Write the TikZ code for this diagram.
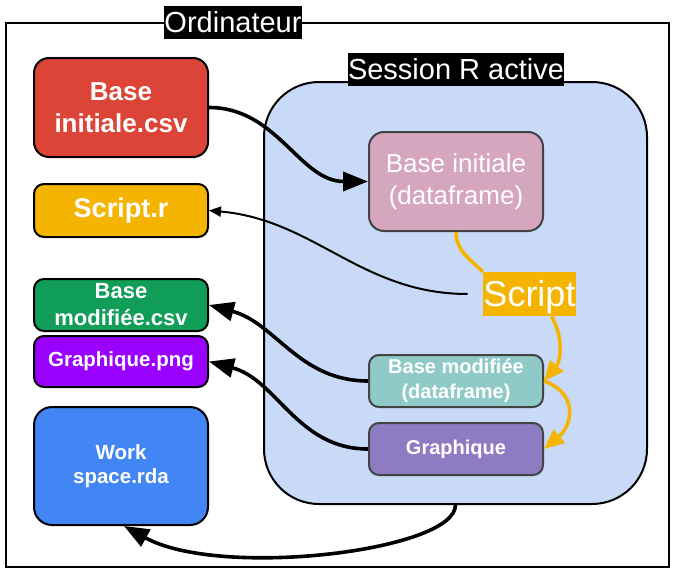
\documentclass[tikz,border=0pt]{standalone}
\usepackage{fontspec}
\setmainfont{Liberation Sans}
\usetikzlibrary{arrows.meta}

\definecolor{csvred}{HTML}{DB4437}
\definecolor{scriptorange}{HTML}{F4B400}
\definecolor{csvgreen}{HTML}{0F9D58}
\definecolor{pngpurple}{HTML}{9900FF}
\definecolor{rdablue}{HTML}{4285F4}
\definecolor{sessionblue}{HTML}{C9DAF8}
\definecolor{dfpink}{HTML}{D5A6BD}
\definecolor{dfteal}{HTML}{8FCAC9}
\definecolor{dfviolet}{HTML}{8E7CC3}
\definecolor{boxgray}{HTML}{434343}

\begin{document}
\begin{tikzpicture}[
            x = 1pt, y = 1pt,
            > = {Triangle[length=25pt, width=19pt]},
            semithick,
            node distance = 100pt
        ]
        \tikzstyle{frame}=[
            draw = black,
            line width = 2pt,
            minimum width = 663pt,
            minimum height = 544pt
        ]
        \tikzstyle{session}=[
            draw = black,
            line width = 2pt,
            fill = sessionblue,
            rounded corners = 55pt,
            minimum width = 383pt,
            minimum height = 422pt
        ]
        \tikzstyle{tag}=[
            fill = black,
            text = white,
            font = \fontsize{29}{35}\selectfont,
            inner sep = 0.5pt,
            text height = 26pt,
            text depth = 6pt
        ]
        \tikzstyle{file}=[
            draw = black,
            line width = 2pt,
            rounded corners = 15pt,
            minimum width = 174pt,
            text = white,
            align = center,
            inner sep = 0pt
        ]
        \tikzstyle{data}=[
            draw = boxgray,
            line width = 2pt,
            rounded corners = 10pt,
            minimum width = 174pt,
            minimum height = 52pt,
            text = white,
            align = center,
            inner sep = 0pt
        ]
        \tikzstyle{flow}=[->, line width = 3.6pt]
        \tikzstyle{code}=[line width = 3.6pt, draw = scriptorange,
            >={Triangle[length=20pt, width=17pt]}]

        \useasboundingbox (0,0) rectangle (675,-573);

        \node[frame] (pc) at (337.5,-295) {};
        \node[tag] (pctag) at (233,-22) {Ordinateur};
        \node[session] (r) at (455.5,-293) {};
        \node[tag] (rtag) at (456,-69) {Session R active};

        % fichiers sur le disque
        \node[file, fill=csvred, minimum height=99pt,
            font=\fontsize{26}{32}\selectfont\bfseries] (csv) at (121,-107.5) {Base\\initiale.csv};
        \node[file, fill=scriptorange, minimum height=53pt, rounded corners=10pt,
            font=\fontsize{27}{32}\selectfont\bfseries] (scriptr) [node distance=103pt, below of=csv] {Script.r};
        \node[file, fill=csvgreen, minimum height=52pt, rounded corners=10pt,
            font=\fontsize{22}{27}\selectfont\bfseries] (modcsv) [node distance=94.5pt, below of=scriptr] {Base\\modifiée.csv};
        \node[file, fill=pngpurple, minimum height=51pt, rounded corners=10pt,
            font=\fontsize{20.5}{25}\selectfont\bfseries] (png) [node distance=56.5pt, below of=modcsv] {Graphique.png};
        \node[file, fill=rdablue, minimum height=118pt, rounded corners=18pt,
            font=\fontsize{20.5}{24}\selectfont\bfseries] (rda) [node distance=104.5pt, below of=png] {Work\\space.rda};

        % objets de la session
        \node[data, fill=dfpink, minimum height=99pt, rounded corners=15pt,
            font=\fontsize{26}{32}\selectfont] (base) at (456,-181.5) {Base initiale\\(dataframe)};
        \node[fill=scriptorange, text=white, font=\fontsize{36}{40}\selectfont,
            inner xsep=0.5pt, inner ysep=2pt, text height=32.5pt, text depth=7.5pt] (script) at (529.5,-294) {Script};
        \node[data, fill=dfteal, font=\fontsize{20}{25}\selectfont\bfseries] (basemod) at (456,-381) {Base modifiée\\(dataframe)};
        \node[data, fill=dfviolet, font=\fontsize{20}{25}\selectfont\bfseries] (graph) [node distance=68pt, below of=basemod] {Graphique};

        \coordinate (scriptout) at ([xshift=-15pt]script.west);
        \coordinate (scriptdown) at ([xshift=22pt]script.south);

        \path[flow] (csv) edge[out=0, in=180] (base.west);
        \path[->, line width=2pt, >={Triangle[length=12pt, width=10pt]}]
            (scriptout) edge[out=180, in=-5] (scriptr.east);
        \path[flow] (basemod.west) edge[out=180, in=-15] (modcsv.east);
        \path[flow] (graph.west) edge[out=180, in=-15] (png.east);
        \draw[flow] (r.south) .. controls +(0,-46) and +(96,-53) .. ([xshift=3pt]rda.south);

        \draw[code] (base.south) to[out=-90, in=135] (script.north west);
        \draw[code, ->] (scriptdown) to[out=-60, in=50] (basemod.east);
        \draw[code, ->] (basemod.east) to[out=-20, in=40, looseness=1.4] (graph.east);
\end{tikzpicture}
\end{document}
